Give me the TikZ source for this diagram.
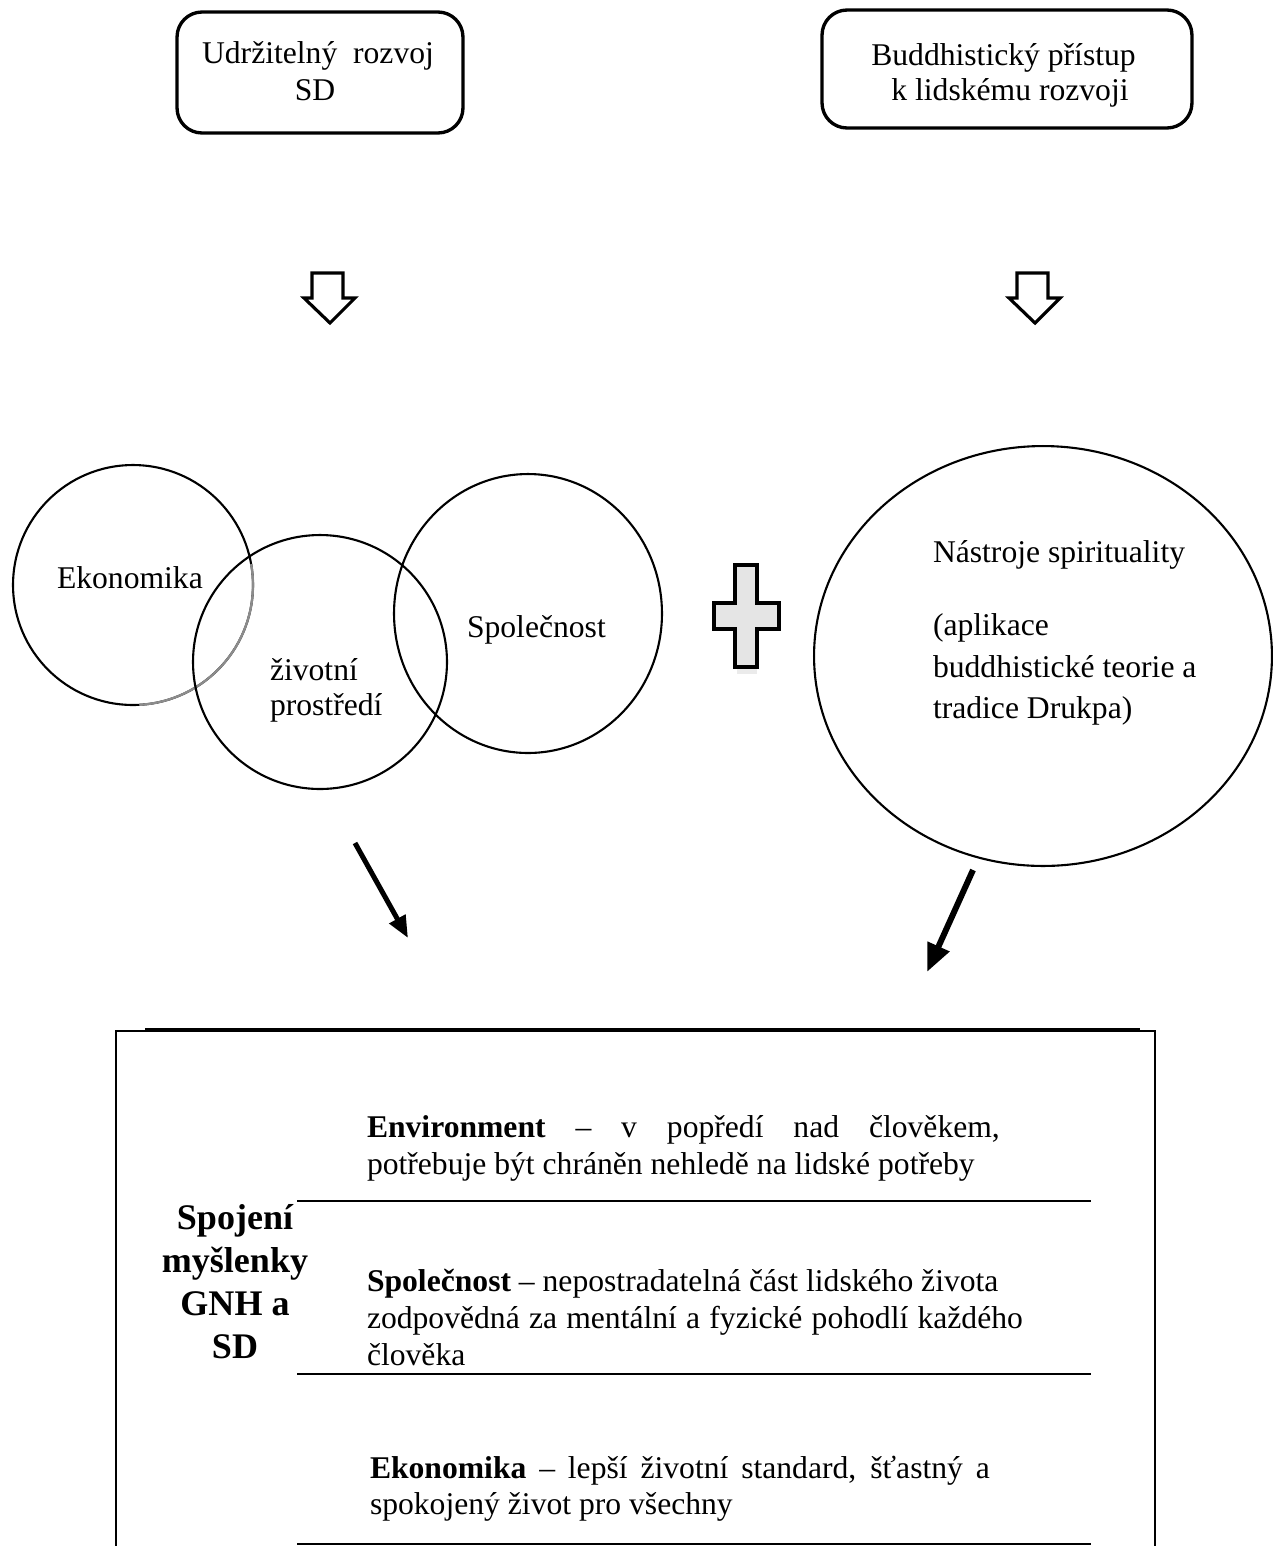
\documentclass[tikz,border=0pt]{standalone}
\usepackage{fontspec}
\setmainfont{Liberation Serif}
\usetikzlibrary{shapes.geometric,arrows.meta}
\begin{document}
\begin{tikzpicture}[x=0.02cm,y=0.02cm,
  txt/.style={font=\fontsize{18}{21}\selectfont, inner sep=0pt, outer sep=0pt},
  ttl/.style={font=\fontsize{20.5}{24}\selectfont\bfseries, inner sep=0pt, outer sep=0pt},
  rbox/.style={draw, rounded corners=0.5cm, line width=1.9pt, inner sep=0pt, outer sep=0pt},
  ring/.style={draw, circle, line width=1.2pt, inner sep=0pt, outer sep=0pt},
  ellring/.style={draw, ellipse, line width=1.2pt, inner sep=0pt, outer sep=0pt},
  hollow/.style={draw, line width=1.8pt, line join=miter, fill=white},
  crossfill/.style={draw, line width=2.3pt, fill=black!10, line join=miter},
  bigarrow/.style={line width=2.85pt, -{Triangle[length=12.5pt,width=10pt]}},
  bigarrowb/.style={line width=3.4pt, -{Triangle[length=16pt,width=13pt]}},
  frame/.style={line width=1.1pt},
  sep/.style={line width=1.2pt}
]
\useasboundingbox (0,0) rectangle (1273,-1546);

% top boxes
\node[rbox, minimum width=5.72cm, minimum height=2.42cm] (sd) at (320,-72.5) {};
\node[txt, anchor=base] (sdA) at (318,-63) {Udržitelný\ \ rozvoj};
\node[txt, anchor=base] (sdB) at (315,-100) {SD};

\node[rbox, minimum width=7.4cm, minimum height=2.36cm] (bud) at (1007,-69) {};
\node[txt, anchor=base] (budA) at (1003.5,-65) {Buddhistický přístup};
\node[txt, anchor=base] (budB) at (1010,-100) {k lidskému rozvoji};

% hollow down arrows
\foreach \cx in {0,705}{
  \begin{scope}[xshift=\cx*0.02cm]
    \draw[hollow] (312,-273) -- (343,-273) -- (343,-298) -- (355,-298) -- (330,-323)
      -- (304,-298) -- (312,-298) -- cycle;
  \end{scope}
}

% Venn circles
\node[ring, minimum size=4.8cm] (cE) at (133,-585) {};
\draw[black!45, line width=1.3pt] (cE.10) arc[start angle=10, end angle=-87, radius=2.4cm];
\node[ring, minimum size=5.08cm] (cZ) at (320,-662) {};
\node[ellring, minimum width=5.36cm, minimum height=5.58cm] (cS) at (528,-613.5) {};

\node[txt, anchor=base west] (tE) at (57,-588) {Ekonomika};
\node[txt, anchor=base west] (tZa) at (270,-680) {životní};
\node[txt, anchor=base west] (tZb) at (270,-715) {prostředí};
\node[txt, anchor=base west] (tS) at (467,-637) {Společnost};

% plus sign
\fill[black!8] (737,-667) rectangle (757,-674);
\draw[crossfill] (735,-565) -- (757,-565) -- (757,-603) -- (779,-603) -- (779,-629)
  -- (757,-629) -- (757,-667) -- (735,-667) -- (735,-629) -- (714,-629)
  -- (714,-603) -- (735,-603) -- cycle;

% big ellipse
\node[ellring, minimum width=9.16cm, minimum height=8.4cm] (cN) at (1043,-656) {};
\node[txt, anchor=base west] (tNa) at (933,-562) {Nástroje spirituality};
\node[txt, anchor=base west] (tNb) at (933,-635) {(aplikace};
\node[txt, anchor=base west] (tNc) at (933,-677) {buddhistické teorie a};
\node[txt, anchor=base west] (tNd) at (933,-718) {tradice Drukpa)};

% slanted arrows
\coordinate (a1s) at (355,-843);
\coordinate (a1e) at (408,-938);
\draw[bigarrow] (a1s) -- (a1e);
\coordinate (a2s) at (973,-870);
\coordinate (a2e) at (927,-972);
\draw[bigarrowb] (a2s) -- (a2e);

% bottom frame
\coordinate (fTL) at (116,-1031);
\coordinate (fTR) at (1155,-1031);
\coordinate (fBL) at (116,-1546);
\coordinate (fBR) at (1155,-1546);
\draw[frame] (fBL) -- (fTL) -- (fTR) -- (fBR);
\coordinate (tkA) at (145,-1030);
\coordinate (tkB) at (1140,-1030);
\draw[line width=2pt] (tkA) -- (tkB);

\coordinate (s1a) at (297,-1201); \coordinate (s1b) at (1091,-1201);
\coordinate (s2a) at (297,-1374); \coordinate (s2b) at (1091,-1374);
\coordinate (s3a) at (297,-1544); \coordinate (s3b) at (1091,-1544);
\draw[sep] (s1a) -- (s1b);
\draw[sep] (s2a) -- (s2b);
\draw[sep] (s3a) -- (s3b);

% title
\node[ttl, anchor=base] (g1) at (235,-1229) {Spojení};
\node[ttl, anchor=base] (g2) at (235,-1272) {myšlenky};
\node[ttl, anchor=base] (g3) at (235,-1315) {GNH a};
\node[ttl, anchor=base] (g4) at (235,-1358) {SD};

% box text
\node[txt, anchor=base west] (b1) at (367,-1137) {\makebox[12.66cm][s]{\textbf{Environment} – v popředí nad člověkem,}};
\node[txt, anchor=base west] (b2) at (367,-1174) {potřebuje být chráněn nehledě na lidské potřeby};
\node[txt, anchor=base west] (b3) at (367,-1291) {\textbf{Společnost} – nepostradatelná část lidského života};
\node[txt, anchor=base west] (b4) at (367,-1328) {\makebox[13.12cm][s]{zodpovědná za mentální a fyzické pohodlí každého}};
\node[txt, anchor=base west] (b5) at (367,-1365) {člověka};
\node[txt, anchor=base west] (b6) at (370,-1478) {\makebox[12.4cm][s]{\textbf{Ekonomika} – lepší životní standard, šťastný a}};
\node[txt, anchor=base west] (b7) at (370,-1514) {spokojený život pro všechny};
\end{tikzpicture}
\end{document}
